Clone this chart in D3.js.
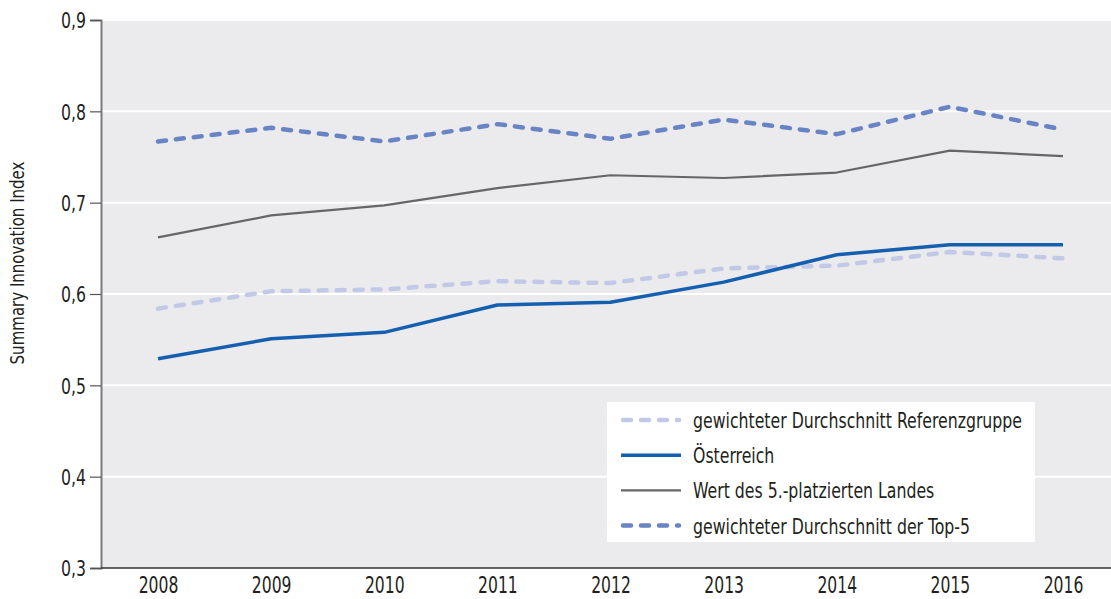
<!DOCTYPE html>
<html><head><meta charset="utf-8">
<script src="https://cdn.jsdelivr.net/npm/d3@7"></script>
<style>
html,body{margin:0;padding:0;background:#fff;}
svg text{font-family:"DejaVu Sans Condensed","DejaVu Sans",sans-serif;fill:#231f20;}
</style></head>
<body><svg id="c" width="1111" height="599"></svg>
<script>
const years = ["2008","2009","2010","2011","2012","2013","2014","2015","2016"];
const yTicks = [0.3,0.4,0.5,0.6,0.7,0.8,0.9];
const refGroup = [0.584,0.603,0.605,0.614,0.612,0.628,0.631,0.646,0.639];
const austria  = [0.529,0.551,0.558,0.588,0.591,0.613,0.643,0.654,0.654];
const fifth    = [0.662,0.686,0.697,0.716,0.730,0.727,0.733,0.757,0.751];
const top5     = [0.767,0.782,0.767,0.786,0.770,0.791,0.775,0.805,0.780];
const seriesNames = ["gewichteter Durchschnitt Referenzgruppe","Österreich","Wert des 5.-platzierten Landes","gewichteter Durchschnitt der Top-5"];
const yTitle = "Summary Innovation Index";

const series = [
  {name:seriesNames[0], values:refGroup, color:"#c1c9e6", width:4.5, dash:"8,10", cap:"round"},
  {name:seriesNames[1], values:austria, color:"#155fb0", width:3.5, dash:null, cap:"butt"},
  {name:seriesNames[2], values:fifth, color:"#666666", width:2.2, dash:null, cap:"butt"},
  {name:seriesNames[3], values:top5, color:"#6984c4", width:4.5, dash:"8,10", cap:"round"}
];

function squeeze(sel, k){
  sel.each(function(){
    const w = this.getComputedTextLength();
    d3.select(this).attr("textLength", w*k).attr("lengthAdjust","spacingAndGlyphs");
  });
}

const svg = d3.select("#c");
const L=101, R=1111, T=20, B=568;
const x = d3.scalePoint().domain(years).range([158,1063]);
const y = d3.scaleLinear().domain([0.3,0.9]).range([B,T]);

svg.append("rect").attr("x",L).attr("y",T).attr("width",R-L).attr("height",B-T).attr("fill","#ebebee");
svg.append("g").selectAll("line").data(yTicks.slice(1)).join("line")
  .attr("x1",L).attr("x2",R).attr("y1",d=>y(d)).attr("y2",d=>y(d))
  .attr("stroke","#ffffff").attr("stroke-width",2);

const FONT='"DejaVu Sans Condensed","DejaVu Sans",sans-serif';
const yAxis = d3.axisLeft(y).tickValues(yTicks).tickSize(11).tickPadding(4)
  .tickFormat(d=>d3.format(".1f")(d).replace(".",","));
const gy = svg.append("g").attr("transform",`translate(${L},0)`).call(yAxis);
gy.select(".domain").attr("stroke","#7a7a7a").attr("stroke-width",2);
gy.selectAll(".tick line").attr("stroke","#555").attr("stroke-width",1.2);
const yt = gy.selectAll(".tick text").attr("font-size",22).attr("fill","#231f20").attr("dy","0.36em").style("font-family",FONT);

const xAxis = d3.axisBottom(x).tickSize(0).tickPadding(9);
const gx = svg.append("g").attr("transform",`translate(0,${B})`).call(xAxis);
gx.select(".domain").remove();
svg.append("line").attr("x1",L).attr("x2",R).attr("y1",B).attr("y2",B).attr("stroke","#333").attr("stroke-width",1.5);
const xt = gx.selectAll(".tick text").attr("font-size",22.5).attr("fill","#231f20").style("font-family",FONT);

const title = svg.append("text").attr("transform","translate(24,263) rotate(-90)").attr("text-anchor","middle")
  .attr("font-size",20).text(yTitle);

const line = d3.line().x((d,i)=>x(years[i])).y(d=>y(d));
svg.append("g").selectAll("path").data(series).join("path")
  .attr("d",d=>line(d.values)).attr("fill","none")
  .attr("stroke",d=>d.color).attr("stroke-width",d=>d.width)
  .attr("stroke-dasharray",d=>d.dash).attr("stroke-linecap",d=>d.cap).attr("stroke-linejoin","round");

const lg = svg.append("g");
lg.append("rect").attr("x",607).attr("y",402).attr("width",428).attr("height",140).attr("fill","#ffffff");
const rows = lg.selectAll("g.row").data(series).join("g").attr("class","row")
  .attr("transform",(d,i)=>`translate(0,${420+i*35.2})`);
rows.append("line").attr("x1",d=>d.cap==="round"?623:621).attr("x2",d=>d.cap==="round"?679:681).attr("y1",0).attr("y2",0)
  .attr("stroke",d=>d.color).attr("stroke-width",d=>d.width)
  .attr("stroke-dasharray",d=>d.dash).attr("stroke-linecap",d=>d.cap);
const lt = rows.append("text").attr("x",693).attr("y",0).attr("dy","0.36em").attr("font-size",22).text(d=>d.name);

// condensed look of the original typeface
const legendTarget = 329;
const k = legendTarget / lt.node().getComputedTextLength();
squeeze(lt, k);
squeeze(title, k*1.05);
const kx = 39.7 / xt.node().getComputedTextLength();
squeeze(xt, kx);
squeeze(yt, kx*1.03);
</script></body></html>
